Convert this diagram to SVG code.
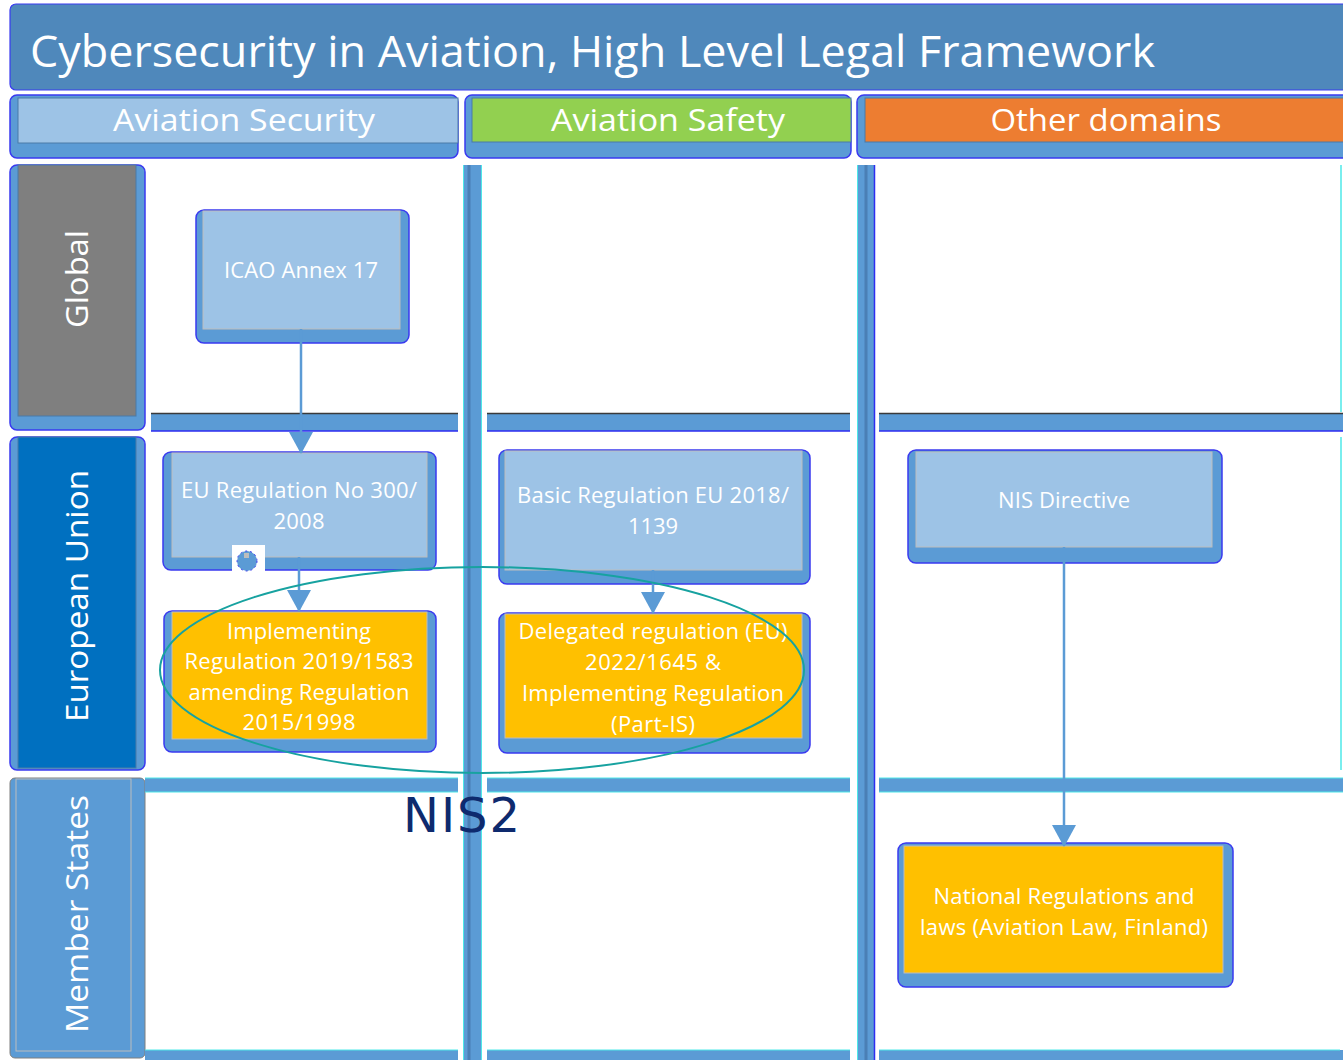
<svg xmlns="http://www.w3.org/2000/svg" width="1343" height="1060" viewBox="0 0 1343 1060">
<defs>
<style>
.t{font-family:"Open Sans","Noto Sans",sans-serif;fill:#ffffff;}
.nt{font-family:"Open Sans","Noto Sans",sans-serif;fill:#ffffff;font-size:22px;text-anchor:middle;}
.ht{font-family:"Open Sans","Noto Sans",sans-serif;fill:#ffffff;font-size:31px;text-anchor:middle;}
.rt{font-family:"Open Sans","Noto Sans",sans-serif;fill:#ffffff;font-size:31px;text-anchor:middle;dominant-baseline:central;}
.outer{fill:#5b9bd5;stroke:#3a3af0;stroke-width:1.5;}
.inner{stroke:#bdbdbd;stroke-width:1;}
.band{fill:#5b9bd5;}
.conn{stroke:#5b9bd5;stroke-width:2.5;fill:none;}
</style>
<marker id="ah" markerWidth="22" markerHeight="24" refX="21" refY="12" orient="auto" markerUnits="userSpaceOnUse" viewBox="0 0 22 24">
<path d="M0,0 L22,12 L0,24 Z" fill="#5b9bd5"/>
</marker>
</defs>
<rect width="1343" height="1060" fill="#ffffff"/>

<!-- Title -->
<g id="title">
<rect x="10" y="4" width="1340" height="86" rx="6" fill="#4f88bb" stroke="#3a3af0" stroke-width="1.2"/>
<text class="t" x="30" y="67" font-size="44" textLength="1125" lengthAdjust="spacingAndGlyphs">Cybersecurity in Aviation, High Level Legal Framework</text>
</g>

<!-- Column headers -->
<g id="hdr-security">
<rect class="outer" x="10" y="95" width="448" height="63" rx="7"/>
<rect x="18" y="98" width="440" height="45" fill="#9dc3e6" stroke="#4a7aa8" stroke-width="1"/>
<text class="ht" x="244" y="131" textLength="262" lengthAdjust="spacingAndGlyphs">Aviation Security</text>
</g>
<g id="hdr-safety">
<rect class="outer" x="465" y="95" width="386" height="63" rx="7"/>
<rect x="472" y="98" width="379" height="44" fill="#92d050" stroke="#4a7aa8" stroke-width="1"/>
<text class="ht" x="668" y="131" textLength="234" lengthAdjust="spacingAndGlyphs">Aviation Safety</text>
</g>
<g id="hdr-other">
<rect class="outer" x="857" y="95" width="495" height="63" rx="7"/>
<rect x="865" y="98" width="480" height="44" fill="#ed7d31" stroke="#4a7aa8" stroke-width="1"/>
<text class="ht" x="1106" y="131" textLength="231" lengthAdjust="spacingAndGlyphs">Other domains</text>
</g>

<!-- Row headers -->
<g id="row-global">
<rect class="outer" x="10" y="165" width="135" height="265" rx="7"/>
<rect x="18" y="165" width="118" height="251" fill="#7f7f7f" stroke="#4a7aa8" stroke-width="1"/>
<text class="rt" transform="translate(76,279) rotate(-90)" textLength="98" lengthAdjust="spacingAndGlyphs">Global</text>
</g>
<g id="row-eu">
<rect class="outer" x="10" y="437" width="135" height="333" rx="7"/>
<rect x="18" y="437" width="118" height="331" fill="#0070c0" stroke="#4a7aa8" stroke-width="1"/>
<text class="rt" transform="translate(76,596) rotate(-90)" textLength="252" lengthAdjust="spacingAndGlyphs">European Union</text>
</g>
<g id="row-ms">
<rect x="10" y="778" width="135" height="280" rx="5" fill="#5b9bd5" stroke="#7f7f7f" stroke-width="1"/>
<rect x="16" y="779" width="115" height="272" fill="#5b9bd5" stroke="#bdbdbd" stroke-width="1"/>
<text class="rt" transform="translate(76,914) rotate(-90)" textLength="238" lengthAdjust="spacingAndGlyphs">Member States</text>
</g>

<!-- Lane separators -->
<g id="separators">
<rect class="band" x="151" y="414" width="307" height="17"/>
<rect class="band" x="487" y="414" width="363" height="17"/>
<rect class="band" x="879" y="414" width="464" height="17"/>
<g stroke="#3a3a3a" stroke-width="1.5">
<line x1="151" y1="413.5" x2="458" y2="413.5"/>
<line x1="487" y1="413.5" x2="850" y2="413.5"/>
<line x1="879" y1="413.5" x2="1343" y2="413.5"/>
</g>
<g stroke="#2d2df0" stroke-width="1.5">
<line x1="151" y1="431" x2="458" y2="431"/>
<line x1="487" y1="431" x2="850" y2="431"/>
<line x1="879" y1="431" x2="1343" y2="431"/>
</g>
<rect class="band" x="145" y="778" width="313" height="14"/>
<rect class="band" x="487" y="778" width="363" height="14"/>
<rect class="band" x="879" y="778" width="464" height="14"/>
<g stroke="#4ee8e8" stroke-width="1">
<line x1="145" y1="792" x2="458" y2="792"/>
<line x1="487" y1="792" x2="850" y2="792"/>
<line x1="879" y1="792" x2="1343" y2="792"/>
<line x1="145" y1="778" x2="458" y2="778"/>
<line x1="487" y1="778" x2="850" y2="778"/>
<line x1="879" y1="778" x2="1343" y2="778"/>
</g>
<rect class="band" x="145" y="1050" width="313" height="10"/>
<rect class="band" x="487" y="1050" width="363" height="10"/>
<rect class="band" x="879" y="1050" width="464" height="10"/>
<g stroke="#4ee8e8" stroke-width="1">
<line x1="145" y1="1050" x2="458" y2="1050"/>
<line x1="487" y1="1050" x2="850" y2="1050"/>
<line x1="879" y1="1050" x2="1340" y2="1050"/>
</g>
<rect class="band" x="463" y="165" width="19" height="895"/>
<line x1="469" y1="165" x2="469" y2="1060" stroke="#4a7fb5" stroke-width="3"/>
<line x1="463.5" y1="165" x2="463.5" y2="1060" stroke="#4ee8e8" stroke-width="1"/>
<line x1="481.5" y1="165" x2="481.5" y2="1060" stroke="#4ee8e8" stroke-width="1"/>
<rect class="band" x="857" y="165" width="18" height="895"/>
<line x1="866" y1="165" x2="866" y2="1060" stroke="#4a7fb5" stroke-width="3"/>
<line x1="857.5" y1="165" x2="857.5" y2="1060" stroke="#4ee8e8" stroke-width="1"/>
<line x1="874.5" y1="165" x2="874.5" y2="1060" stroke="#2d2df0" stroke-width="1.5"/>
<line x1="1341" y1="165" x2="1341" y2="412" stroke="#4ee8e8" stroke-width="1.5"/>
<line x1="1341" y1="437" x2="1341" y2="770" stroke="#4ee8e8" stroke-width="1.5"/>
</g>

<!-- Nodes -->
<g id="n-icao">
<rect class="outer" x="196" y="210" width="213" height="133" rx="8"/>
<rect class="inner" x="203" y="211" width="197" height="118" fill="#9dc3e6"/>
<text class="nt" x="301" y="278" textLength="154">ICAO Annex 17</text>
</g>
<g id="n-eu300">
<rect class="outer" x="163" y="452" width="273" height="118" rx="8"/>
<rect class="inner" x="172" y="453" width="255" height="104" fill="#9dc3e6"/>
<text class="nt" x="299" y="498" textLength="236">EU Regulation No 300/</text>
<text class="nt" x="299" y="529" textLength="51">2008</text>
<rect x="232" y="545" width="33" height="27" fill="#ffffff"/>
<circle cx="247" cy="561" r="10" fill="#5b9bd5" stroke="#3a3af0" stroke-width="1" stroke-dasharray="2 3"/>
<rect x="244" y="553" width="5" height="5" fill="#bdbdbd"/>
</g>
<g id="n-impl">
<rect class="outer" x="164" y="611" width="272" height="141" rx="8"/>
<rect class="inner" x="172" y="612" width="255" height="127" fill="#ffc000"/>
<text class="nt" x="299" y="639" textLength="144">Implementing</text>
<text class="nt" x="299" y="669" textLength="229">Regulation 2019/1583</text>
<text class="nt" x="299" y="700" textLength="221">amending Regulation</text>
<text class="nt" x="299" y="730" textLength="113">2015/1998</text>
</g>
<g id="n-basic">
<rect class="outer" x="499" y="450" width="311" height="134" rx="8"/>
<rect class="inner" x="505" y="451" width="297" height="119" fill="#9dc3e6"/>
<text class="nt" x="653" y="503" textLength="272">Basic Regulation EU 2018/</text>
<text class="nt" x="653" y="534" textLength="50">1139</text>
</g>
<g id="n-deleg">
<rect class="outer" x="499" y="613" width="311" height="140" rx="8"/>
<rect class="inner" x="505" y="614" width="297" height="124" fill="#ffc000"/>
<text class="nt" x="653" y="639" textLength="269">Delegated regulation (EU)</text>
<text class="nt" x="653" y="670" textLength="136">2022/1645 &amp;</text>
<text class="nt" x="653" y="701" textLength="262">Implementing Regulation</text>
<text class="nt" x="653" y="732" textLength="84">(Part-IS)</text>
</g>
<g id="n-nis">
<rect class="outer" x="908" y="450" width="314" height="113" rx="8"/>
<rect class="inner" x="916" y="452" width="296" height="95" fill="#9dc3e6"/>
<text class="nt" x="1064" y="508" textLength="132">NIS Directive</text>
</g>
<g id="n-national">
<rect class="outer" x="898" y="843" width="335" height="144" rx="8"/>
<rect class="inner" x="904" y="846" width="319" height="127" fill="#ffc000"/>
<text class="nt" x="1064" y="904" textLength="261">National Regulations and</text>
<text class="nt" x="1064" y="935" textLength="288">laws (Aviation Law, Finland)</text>
</g>

<!-- Connectors -->
<g id="connectors">
<line class="conn" x1="301" y1="329" x2="301" y2="453" marker-end="url(#ah)"/>
<line class="conn" x1="299" y1="557" x2="299" y2="611" marker-end="url(#ah)"/>
<line class="conn" x1="653" y1="570" x2="653" y2="613" marker-end="url(#ah)"/>
<line class="conn" x1="1064" y1="547" x2="1064" y2="846" marker-end="url(#ah)"/>
</g>

<!-- NIS2 grouping -->
<g id="nis2">
<ellipse cx="482" cy="670" rx="322" ry="103" fill="none" stroke="#17a2a0" stroke-width="2"/>
<text x="403" y="832" font-family="DejaVu Sans, sans-serif" font-size="48" fill="#0e2a6e" textLength="117">NIS2</text>
</g>
</svg>
